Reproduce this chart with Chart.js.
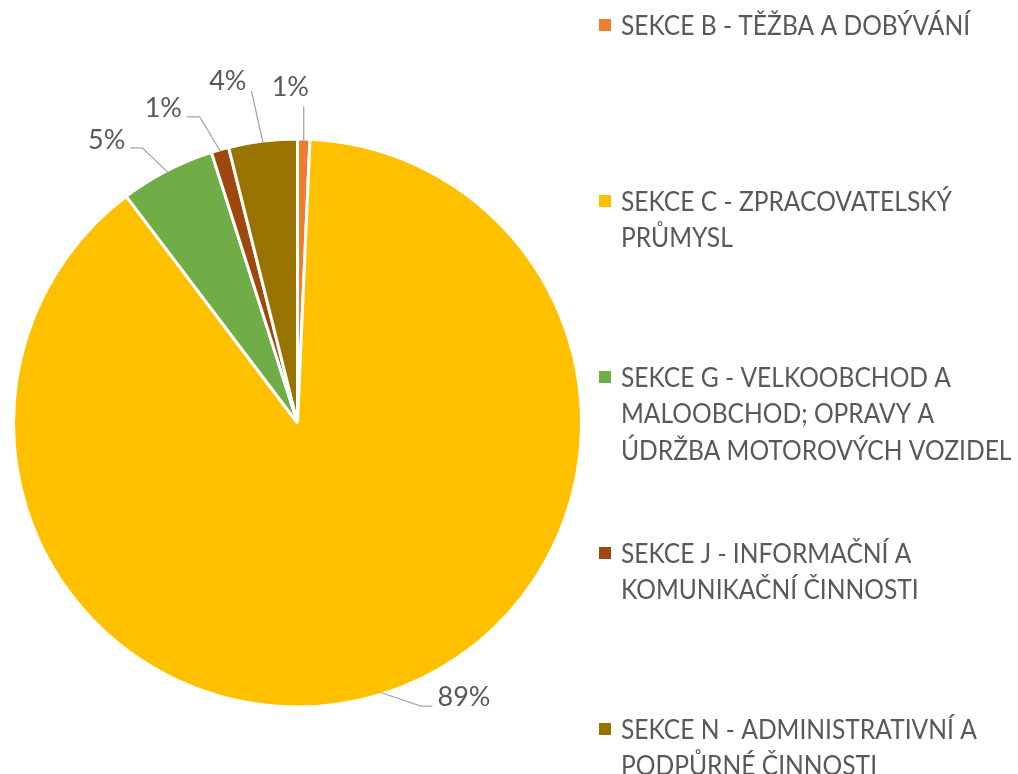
<!DOCTYPE html>
<html><head><meta charset="utf-8">
<script src="https://cdn.jsdelivr.net/npm/chart.js@4.4.0/dist/chart.umd.min.js"></script>
<style>html,body{margin:0;padding:0;background:#fff;} #wrap{width:1018px;height:774px;position:relative}</style>
</head><body><div id="wrap"><canvas id="c" width="1018" height="774"></canvas></div>
<script>
// ---- data ----
const categories = [
  ['SEKCE B - TĚŽBA A DOBÝVÁNÍ'],
  ['SEKCE C - ZPRACOVATELSKÝ', 'PRŮMYSL'],
  ['SEKCE G - VELKOOBCHOD A', 'MALOOBCHOD; OPRAVY A', 'ÚDRŽBA MOTOROVÝCH VOZIDEL'],
  ['SEKCE J - INFORMAČNÍ A', 'KOMUNIKAČNÍ ČINNOSTI'],
  ['SEKCE N - ADMINISTRATIVNÍ A', 'PODPŮRNÉ ČINNOSTI']
];
const values = [0.7, 89.0, 5.4, 1.0, 3.9];
const colors = ['#ED7D31', '#FFC000', '#70AD47', '#9E480E', '#997300'];

// ---- layout (label / leader offsets relative to slice edge point) ----
const labelLayout = [
  {anchor: [-13.4, -44.3], align: 'center', leader: [[0, -34.3]]},
  {anchor: [56.1, 13.4], align: 'left', leader: [[39.4, 13.4], [51.1, 13.4]]},
  {anchor: [-42.4, -23.6], align: 'right', leader: [[-25.4, -24.3], [-37.4, -24.3]]},
  {anchor: [-38.4, -34.4], align: 'right', leader: [[-20.7, -34.4], [-33.4, -34.4]]},
  {anchor: [-16.5, -52.4], align: 'right', leader: [[-11.5, -51.4]]}
];
const TEXT = '#595959';
const FONT = 'Lato';
const LEGEND_SQUEEZE = 0.946;

const total = values.reduce((a, b) => a + b, 0);

const pieLabels = {
  id: 'pieLabels',
  afterDatasetsDraw(chart) {
    const ctx = chart.ctx;
    const meta = chart.getDatasetMeta(0);
    ctx.save();
    meta.data.forEach((arc, i) => {
      const p = arc.getProps(['x', 'y', 'startAngle', 'endAngle', 'outerRadius']);
      const mid = (p.startAngle + p.endAngle) / 2;
      const r = p.outerRadius - 1.5;
      const ex = p.x + Math.cos(mid) * r;
      const ey = p.y + Math.sin(mid) * r;
      const L = labelLayout[i];
      ctx.strokeStyle = '#A6A6A6';
      ctx.lineWidth = 1.3;
      ctx.beginPath();
      ctx.moveTo(ex, ey);
      L.leader.forEach(pt => ctx.lineTo(ex + pt[0], ey + pt[1]));
      ctx.stroke();
      const pct = Math.round(values[i] / total * 100) + '%';
      ctx.fillStyle = TEXT;
      ctx.font = '27px ' + FONT;
      ctx.textAlign = L.align;
      ctx.textBaseline = 'alphabetic';
      ctx.fillText(pct, ex + L.anchor[0], ey + L.anchor[1]);
    });
    ctx.restore();
  }
};

const sideLegend = {
  id: 'sideLegend',
  afterDraw(chart) {
    const ctx = chart.ctx;
    ctx.save();
    const x0 = 599, tx = 621, top = 25, step = 176, lh = 36.5;
    chart.data.labels.forEach((lines, i) => {
      const cy = top + i * step;
      ctx.fillStyle = colors[i];
      ctx.fillRect(x0, cy - 6, 12, 12);
      ctx.fillStyle = TEXT;
      ctx.font = '26px ' + FONT;
      ctx.textAlign = 'left';
      ctx.textBaseline = 'alphabetic';
      lines.forEach((t, j) => {
        ctx.save();
        ctx.translate(tx, cy + j * lh + 9.5);
        ctx.scale(LEGEND_SQUEEZE, 1);
        ctx.fillText(t, 0, 0);
        ctx.restore();
      });
    });
    ctx.restore();
  }
};

new Chart(document.getElementById('c'), {
  type: 'pie',
  data: {
    labels: categories,
    datasets: [{
      data: values,
      backgroundColor: colors,
      borderColor: '#FFFFFF',
      borderWidth: 3,
      radius: 284
    }]
  },
  options: {
    responsive: false,
    animation: false,
    layout: {padding: {left: 0, right: 423, top: 72, bottom: 0}},
    plugins: {legend: {display: false}, tooltip: {enabled: false}}
  },
  plugins: [pieLabels, sideLegend]
});
</script>
</body></html>
